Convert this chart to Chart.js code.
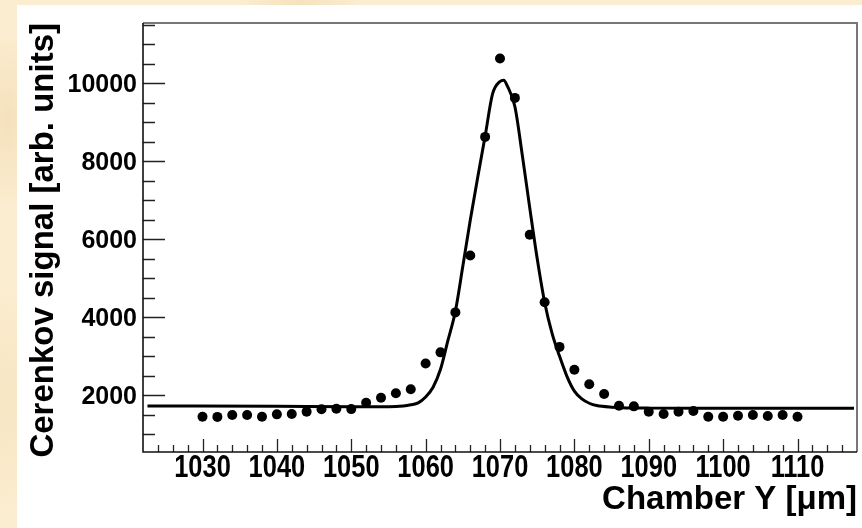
<!DOCTYPE html>
<html>
<head>
<meta charset="utf-8">
<script src="https://cdn.jsdelivr.net/npm/chart.js@4.4.1/dist/chart.umd.min.js"></script>
<style>
    html, body {
        margin: 0;
        padding: 0;
        width: 862px;
        height: 528px;
        overflow: hidden;
        background:
            radial-gradient(ellipse 40px 90px at 8px 120px, rgba(240, 214, 170, 0.55), rgba(240, 214, 170, 0)),
            radial-gradient(ellipse 60px 30px at 300px 2px, rgba(240, 214, 170, 0.5), rgba(240, 214, 170, 0)),
            radial-gradient(ellipse 50px 120px at 6px 400px, rgba(244, 222, 182, 0.5), rgba(244, 222, 182, 0)),
            #fbedd0;
    }
    #panel {
        position: absolute;
        left: 17px;
        top: 5px;
        width: 845px;
        height: 523px;
        background: #ffffff;
    }
    #plot {
        position: absolute;
        left: 0;
        top: 0;
    }
</style>
</head>
<body>
<div id="panel"></div>
<canvas id="plot" width="862" height="528"></canvas>
<script>
// measured points (Chamber Y in um, signal)
const pointX = [1030, 1032, 1034, 1036, 1038, 1040, 1042, 1044, 1046, 1048,
    1050, 1052, 1054, 1056, 1058, 1060, 1062, 1064, 1066, 1068,
    1070, 1072, 1074, 1076, 1078, 1080, 1082, 1084, 1086, 1088,
    1090, 1092, 1094, 1096, 1098, 1100, 1102, 1104, 1106, 1108, 1110];
const pointY = [1445, 1440, 1490, 1490, 1445, 1505, 1515, 1575, 1635, 1650,
    1640, 1805, 1930, 2045, 2150, 2810, 3095, 4120, 5580, 8620,
    10630, 9620, 6110, 4380, 3235, 2650, 2275, 2025, 1725, 1710,
    1575, 1515, 1575, 1590, 1445, 1445, 1470, 1490, 1465, 1490, 1445];

// fit curve
const fitX = [1022.6, 1040, 1050, 1055, 1057, 1058, 1059, 1060, 1061, 1062,
    1063, 1064, 1065, 1066, 1067, 1068, 1069, 1070, 1070.5, 1071,
    1072, 1073, 1074, 1075, 1076, 1077, 1078, 1079, 1080, 1081,
    1082, 1083, 1085, 1090, 1100, 1117.6];
const fitY = [1720, 1710, 1700, 1700, 1720, 1750, 1800, 1950, 2200, 2660,
    3400, 4150, 5300, 6480, 7580, 8640, 9720, 10040, 10070, 9920,
    9400, 8150, 6800, 5500, 4380, 3580, 3000, 2480, 2100, 1900,
    1790, 1730, 1690, 1665, 1660, 1660];

const xTickValues = [1030, 1040, 1050, 1060, 1070, 1080, 1090, 1100, 1110];
const yTickValues = [2000, 4000, 6000, 8000, 10000];
const xRange = [1022, 1118];
const yRange = [540, 11540];

const toXY = (xs, ys) => {
    let out = [];
    for (let i = 0; i < xs.length; i++) {
        out.push({x: xs[i], y: ys[i]});
    }
    return out;
}

// ROOT style frame: ticks drawn inside the plot, condensed x labels
const framePlugin = {
    id: 'frame',
    afterDatasetsDraw: (chart) => {
        const ctx = chart.ctx;
        const area = chart.chartArea;
        const xs = chart.scales.x;
        const ys = chart.scales.y;
        ctx.save();

        ctx.strokeStyle = '#222';
        ctx.lineWidth = 1.3;
        ctx.beginPath();
        for (let v = 1024; v <= 1116; v += 2) {
            const px = Math.round(xs.getPixelForValue(v)) + 0.5;
            const len = (v % 10 === 0) ? 13 : 7;
            ctx.moveTo(px, area.bottom);
            ctx.lineTo(px, area.bottom - len);
        }
        for (let v = 1000; v <= 11500; v += 500) {
            const py = Math.round(ys.getPixelForValue(v)) + 0.5;
            const len = (v % 2000 === 0) ? 22 : 12;
            ctx.moveTo(area.left, py);
            ctx.lineTo(area.left + len, py);
        }
        ctx.stroke();

        // top and right edges of the frame are grey
        ctx.strokeStyle = '#777';
        ctx.lineWidth = 2;
        ctx.beginPath();
        ctx.moveTo(area.left, area.top);
        ctx.lineTo(area.right, area.top);
        ctx.lineTo(area.right, area.bottom);
        ctx.stroke();

        ctx.strokeStyle = '#111';
        ctx.lineWidth = 1.6;
        ctx.beginPath();
        ctx.moveTo(area.left, area.top);
        ctx.lineTo(area.left, area.bottom);
        ctx.lineTo(area.right, area.bottom);
        ctx.stroke();

        // x tick labels, squeezed like the original font
        ctx.fillStyle = '#000';
        ctx.font = "bold 31px 'Liberation Sans', Arial, sans-serif";
        ctx.textAlign = 'center';
        ctx.textBaseline = 'alphabetic';
        xTickValues.forEach(v => {
            ctx.save();
            ctx.translate(xs.getPixelForValue(v), area.bottom + 24.5);
            ctx.scale(0.82, 1);
            ctx.fillText(String(v), 0, 0);
            ctx.restore();
        });
        ctx.restore();
    }
};

const config = {
    type: 'scatter',
    data: {
        datasets: [
            {
                label: 'Fit',
                data: toXY(fitX, fitY),
                showLine: true,
                borderColor: '#000',
                borderWidth: 3,
                pointRadius: 0,
                cubicInterpolationMode: 'monotone',
                order: 2
            },
            {
                label: 'Data',
                data: toXY(pointX, pointY),
                showLine: false,
                backgroundColor: '#000',
                borderWidth: 0,
                pointRadius: 5,
                order: 1
            }
        ]
    },
    options: {
        responsive: false,
        animation: false,
        devicePixelRatio: 1,
        layout: {
            padding: {left: 0, top: 23, right: 2, bottom: 0}
        },
        plugins: {
            legend: {display: false},
            tooltip: {enabled: false}
        },
        scales: {
            x: {
                type: 'linear',
                position: 'bottom',
                min: xRange[0],
                max: xRange[1],
                grid: {display: false, drawTicks: false},
                border: {display: false},
                afterBuildTicks: (scale) => {
                    scale.ticks = xTickValues.map(v => ({value: v}));
                },
                afterFit: (scale) => {
                    scale.height = 76;
                },
                ticks: {
                    display: false
                },
                title: {
                    display: true,
                    text: 'Chamber Y [μm]',
                    align: 'end',
                    color: '#000',
                    padding: {top: 0, bottom: 8},
                    font: {family: "'Liberation Sans', Arial, sans-serif", weight: 'bold', size: 33, lineHeight: 1.2}
                }
            },
            y: {
                type: 'linear',
                min: yRange[0],
                max: yRange[1],
                grid: {display: false, drawTicks: false},
                border: {display: false},
                afterBuildTicks: (scale) => {
                    scale.ticks = yTickValues.map(v => ({value: v}));
                },
                afterFit: (scale) => {
                    scale.width = 143;
                },
                ticks: {
                    color: '#000',
                    padding: 6,
                    labelOffset: 2,
                    font: {family: "'Liberation Sans', Arial, sans-serif", weight: 'bold', size: 25},
                    callback: (value) => String(value)
                },
                title: {
                    display: true,
                    text: 'Cerenkov signal [arb. units]',
                    align: 'end',
                    color: '#000',
                    padding: {top: 24, bottom: 0},
                    font: {family: "'Liberation Sans', Arial, sans-serif", weight: 'bold', size: 33, lineHeight: 1.2}
                }
            }
        }
    },
    plugins: [framePlugin]
};

let chart = new Chart(document.getElementById('plot').getContext('2d'), config);
</script>
</body>
</html>
